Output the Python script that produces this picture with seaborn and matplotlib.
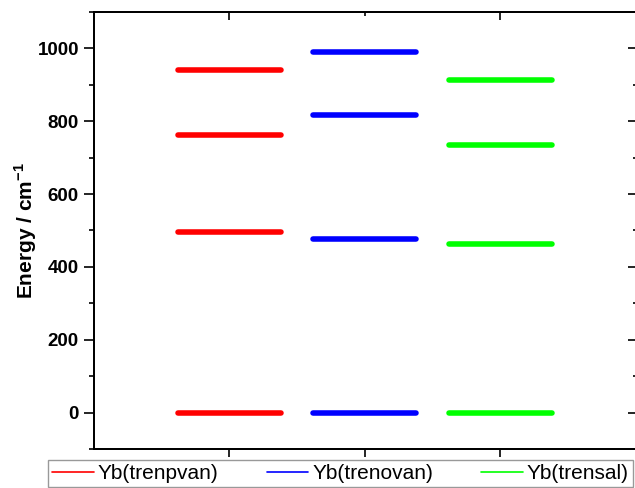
import numpy as np
import pandas as pd
import matplotlib
matplotlib.use("Agg")
import matplotlib.pyplot as plt
from matplotlib.lines import Line2D
from matplotlib.ticker import MultipleLocator, FixedLocator
import seaborn as sns

# Crystal-field energy levels (cm^-1) for each Yb complex
compounds = ["Yb(trenpvan)", "Yb(trenovan)", "Yb(trensal)"]
levels_trenpvan = [0, 497, 761, 941]
levels_trenovan = [0, 478, 818, 989]
levels_trensal = [0, 464, 736, 912]
colors = ["#FF0000", "#0000FF", "#00FF00"]

half_width = 0.38  # half length of each level bar, in category units

rows = []
for pos, (name, levels) in enumerate(
        zip(compounds, [levels_trenpvan, levels_trenovan, levels_trensal]), start=1):
    for k, e in enumerate(levels):
        for x in (pos - half_width, pos + half_width):
            rows.append({"compound": name, "level": f"{name}-{k}", "x": x, "energy": e})
df = pd.DataFrame(rows)

sns.set_style("ticks")
plt.rcParams.update({
    "font.family": ["Liberation Sans", "DejaVu Sans"],
    "text.color": "black",
    "axes.labelcolor": "black",
    "axes.edgecolor": "black",
    "xtick.color": "black",
    "ytick.color": "black",
    "mathtext.fontset": "custom",
    "mathtext.rm": "Liberation Sans",
    "mathtext.bf": "Liberation Sans:bold",
})

fig = plt.figure(figsize=(6.35, 4.88), dpi=100)
ax = fig.add_axes([93.5 / 635, 1 - 449 / 488, (636 - 93.5) / 635, (449 - 12) / 488])

sns.lineplot(data=df, x="x", y="energy", hue="compound", units="level",
             estimator=None, palette=colors, hue_order=compounds,
             linewidth=4.0, solid_capstyle="round", legend=False, ax=ax)

ax.set_xlim(0, 4)
ax.set_ylim(-100, 1100)
ax.set_xlabel("")
ax.set_ylabel("Energy / cm$^{\\mathbf{-1}}$", fontsize=15, fontweight="bold", labelpad=-1)

ax.yaxis.set_major_locator(MultipleLocator(200))
ax.yaxis.set_minor_locator(MultipleLocator(100))
ax.xaxis.set_major_locator(FixedLocator([1, 2, 3]))
ax.tick_params(axis="y", which="major", direction="out", length=7, width=1.2,
               labelsize=13.5, left=True, right=False)
ax.tick_params(axis="y", which="minor", direction="out", length=3.5, width=1.2,
               left=True, right=False)
ax.tick_params(axis="x", which="major", direction="out", length=5.5, width=1.2,
               labelbottom=False, bottom=True, top=False)
for lab in ax.get_yticklabels():
    lab.set_fontweight("bold")

# Inward ticks on the right and top edges
ax_r = ax.twinx()
ax_r.set_ylim(ax.get_ylim())
ax_r.yaxis.set_major_locator(MultipleLocator(200))
ax_r.yaxis.set_minor_locator(MultipleLocator(100))
ax_r.tick_params(axis="y", which="major", direction="in", length=5.5, width=1.2, labelright=False)
ax_r.tick_params(axis="y", which="minor", direction="in", length=2.5, width=1.2)
ax_t = ax.twiny()
ax_t.set_xlim(ax.get_xlim())
ax_t.xaxis.set_major_locator(FixedLocator([1, 3]))
ax_t.xaxis.set_minor_locator(FixedLocator([2]))
ax_t.tick_params(axis="x", which="major", direction="in", length=5.5, width=1.2, labeltop=False)
ax_t.tick_params(axis="x", which="minor", direction="in", length=3, width=1.2)

for a in (ax, ax_r, ax_t):
    for s in a.spines.values():
        s.set_visible(True)
        s.set_linewidth(1.2)
        s.set_color("black")

handles = [Line2D([], [], color=c, lw=1.2) for c in colors]
leg = fig.legend(handles, compounds, loc="upper left", ncol=3, mode="expand",
                 bbox_to_anchor=(48 / 635, 0, (633 - 48) / 635, 1 - 460 / 488),
                 borderaxespad=0, fontsize=15, frameon=True, fancybox=False,
                 handlelength=2.0, handletextpad=0.2, borderpad=0.2)
leg.get_frame().set_edgecolor("#808080")
leg.get_frame().set_linewidth(1.0)

fig.savefig("out.png", dpi=100)
